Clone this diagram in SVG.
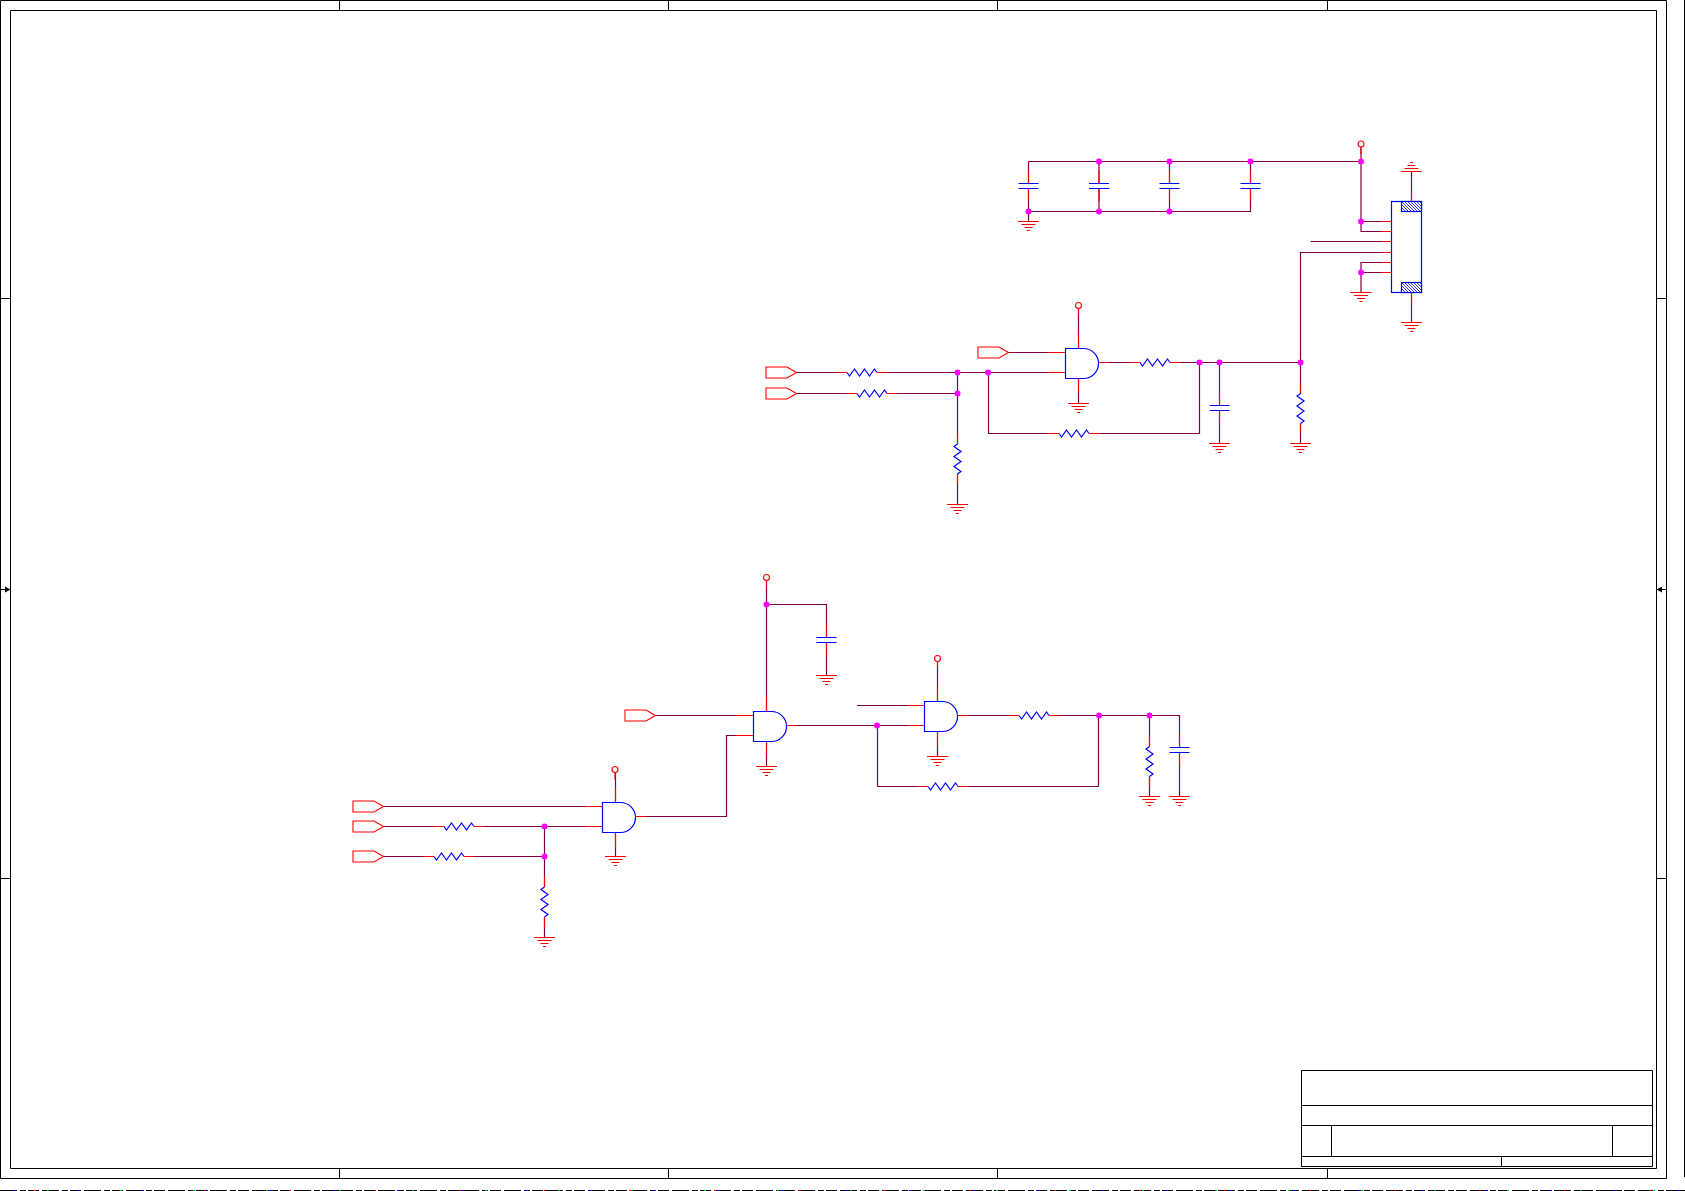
<svg xmlns="http://www.w3.org/2000/svg" width="1685" height="1191" viewBox="0 0 1685 1191">
<style>
.w{fill:none;stroke:#800040;stroke-width:1.2}
.r{fill:none;stroke:#ff0000;stroke-width:1.1}
.b{fill:none;stroke:#0000ff;stroke-width:1.2}
.k{fill:none;stroke:#000000;stroke-width:1}
.j{fill:#ff00ff}
</style>
<defs>
<pattern id="hatch" patternUnits="userSpaceOnUse" width="3" height="3">
<rect width="3" height="3" fill="#ffffff"/>
<path d="M-1 -1L4 4M-1 2L1 4M2 -1L4 1" stroke="#0000ff" stroke-width="0.8"/>
</pattern>
<g id="gnd"><path class="r" d="M-10.5 0H10.5M-7 3H7M-4 6H4M-1.5 9H1.5"/></g>
<g id="gnd-up"><path class="r" d="M-10.5 0H10.5M-7 -3H7M-4 -6H4M-1.5 -9H1.5"/></g>
<g id="res"><path class="r" d="M-10 0H0M30 0H40"/><path class="b" d="M0 0L2.5 3.5L7.5 -3.5L12.5 3.5L17.5 -3.5L22.5 3.5L27.5 -3.5L30 0"/></g>
<g id="cap"><path class="r" d="M0 -13V0M0 5V18"/><path class="b" d="M-10 0H10M-10 5H10"/></g>
<g id="gate"><path class="r" d="M-17 4H0M-17 24H0M33 14H43M13 -15V0M13 30V45"/><path class="b" fill="#ffffff" d="M0 0H18A15 15 0 0 1 18 30H0Z"/></g>
<g id="port"><path class="r" fill="#ffffff" d="M0 0H21L30.5 5.5L21 11H0Z"/></g>
<g id="pwr"><path class="r" d="M0 3V10"/><circle class="r" r="3"/></g>
</defs>
<rect width="1685" height="1191" fill="#ffffff"/>

<g id="frame">
<path class="k" d="M0.5 0.5H1666.5V1178.5H0.5ZM10.5 10.5H1656.5V1168.5H10.5Z"/>
<path class="k" d="M339.5 0.5V10.5M668.5 0.5V10.5M997.5 0.5V10.5M1327.5 0.5V10.5M339.5 1168.5V1178.5M668.5 1168.5V1178.5M997.5 1168.5V1178.5M1327.5 1168.5V1178.5M0.5 298.5H10.5M0.5 878.5H10.5M1656.5 298.5H1666.5M1656.5 878.5H1666.5"/>
<path class="k" d="M0.5 589.5H10.5M1656.5 589.5H1666.5"/>
<path d="M10.5 589.5L5 586.5V592.5ZM1656.5 589.5L1662 586.5V592.5Z" fill="#000000"/>
<path class="k" d="M1684.5 0V1177"/>
<path class="k" stroke-dasharray="17 3 6 2 11 3" d="M0 1190.5H1685"/>
<path fill="none" stroke="#0000ff" stroke-dasharray="3 61" d="M13 1190.5H1685"/>
<path fill="none" stroke="#ff0000" stroke-dasharray="2 83" d="M34 1190.5H1685"/>
<path fill="none" stroke="#00cc44" stroke-dasharray="2 71" d="M47 1190.5H1685"/>
</g>
<g id="title-block">
<path class="k" d="M1301.5 1070.5H1652.5V1166.5H1301.5ZM1301.5 1105.5H1652.5M1301.5 1125.5H1652.5M1301.5 1156.5H1652.5M1331.5 1125.5V1156.5M1612.5 1125.5V1156.5M1501.5 1156.5V1166.5"/>
</g>

<g id="connectors">
<path class="w" d="M1361 147.5V231.5H1391.5M1028.5 161.5H1361M1028.5 161.5V183.5M1028.5 188.5V221.5M1028.5 211.5H1250.5V188.5M1099 161.5V183.5M1099 188.5V211.5M1169.5 161.5V183.5M1169.5 188.5V211.5M1250.5 161.5V183.5M1361 221.5H1391.5M1310.5 241.5H1391.5M1391.5 252.5H1300.5V393.5M1391.5 262.5H1361V292.5M1361 272.5H1391.5M1411.5 201.5V171.5M1411.5 292.5V322.5"/>
<path class="w" d="M797 372.5H847M877 372.5H1065.5M797 393.5H857M887 393.5H957.5M957.5 372.5V444M957.5 474V504.5M988.5 372.5V433.5H1059M1089 433.5H1199.5V362.5M1008 352.5H1065.5M1098 362.5H1140M1170 362.5H1300.5M1300.5 423.5V443.5M1219.5 362.5V405.5M1219.5 410.5V443.5M1078.5 308.5V348.5M1078.5 378.5V403.5"/>
<path class="w" d="M766.5 580.5V711.5M766.5 604.5H826.5V637.5M826.5 642.5V675.5M655.5 715.5H753.5M753.5 735.5H726.5V816.5H635.5M786 725.5H924.5M877.5 725.5V786.5H928M958 786.5H1098.5V715.5M857 705.5H924.5M957 715.5H1019M1049 715.5H1179.5V747.5M1179.5 752.5V796.5M1149.5 715.5V746.5M1149.5 776.5V796.5M937.5 661.5V701.5M937.5 731.5V756.5M766.5 741.5V766.5"/>
<path class="w" d="M383.5 806.5H602.5M383.5 826.5H444M474 826.5H602.5M383.5 856.5H434M464 856.5H544.5M544.5 826.5V887M544.5 917V937.5M615.5 772.5V802.5M615.5 832.5V856.5"/>
<g id="junctions">
<circle class="j" cx="1099" cy="161.5" r="3"/><circle class="j" cx="1169.5" cy="161.5" r="3"/><circle class="j" cx="1250.5" cy="161.5" r="3"/><circle class="j" cx="1361" cy="161.5" r="3"/>
<circle class="j" cx="1028.5" cy="211.5" r="3"/><circle class="j" cx="1099" cy="211.5" r="3"/><circle class="j" cx="1169.5" cy="211.5" r="3"/>
<circle class="j" cx="1361" cy="221.5" r="3"/><circle class="j" cx="1361" cy="272.5" r="3"/>
<circle class="j" cx="957.5" cy="372.5" r="3"/><circle class="j" cx="988" cy="372.5" r="3"/><circle class="j" cx="957.5" cy="393.5" r="3"/>
<circle class="j" cx="1199.5" cy="362.5" r="3"/><circle class="j" cx="1219.5" cy="362.5" r="3"/><circle class="j" cx="1300.5" cy="362.5" r="3"/>
<circle class="j" cx="766.5" cy="604.5" r="3"/><circle class="j" cx="877" cy="725.5" r="3"/><circle class="j" cx="1099" cy="715.5" r="3"/><circle class="j" cx="1149.5" cy="715.5" r="3"/>
<circle class="j" cx="544.5" cy="826.5" r="3"/><circle class="j" cx="544.5" cy="856.5" r="3"/>
</g>
</g>

<g id="J1">
<rect class="b" x="1391.5" y="201.5" width="30" height="91"/>
<rect x="1401.5" y="201.5" width="20" height="10" fill="url(#hatch)" stroke="#0000ff" stroke-width="1.2"/>
<rect x="1401.5" y="282.5" width="20" height="10" fill="url(#hatch)" stroke="#0000ff" stroke-width="1.2"/>
<path class="r" d="M1381.5 221.5H1391.5M1381.5 231.5H1391.5M1381.5 241.5H1391.5M1381.5 252.5H1391.5M1381.5 262.5H1391.5M1381.5 272.5H1391.5M1411.5 191.5V201.5M1411.5 292.5V302.5"/>
</g>

<g id="U1"><use href="#gate" x="1065.5" y="348.5"/></g>
<g id="U2"><use href="#gate" x="753.5" y="711.5"/></g>
<g id="U3"><use href="#gate" x="602.5" y="802.5"/></g>
<g id="U4"><use href="#gate" x="924.5" y="701.5"/></g>

<g id="C1"><use href="#cap" x="1028.5" y="183.5"/></g>
<g id="C2"><use href="#cap" x="1099" y="183.5"/></g>
<g id="C3"><use href="#cap" x="1169.5" y="183.5"/></g>
<g id="C4"><use href="#cap" x="1250.5" y="183.5"/></g>
<g id="C5"><use href="#cap" x="1219.5" y="405.5"/></g>
<g id="C6"><use href="#cap" x="826.5" y="637.5"/></g>
<g id="C7"><use href="#cap" x="1179.5" y="747.5"/></g>

<g id="R1"><use href="#res" x="847" y="372.5"/></g>
<g id="R2"><use href="#res" x="857" y="393.5"/></g>
<g id="R3"><use href="#res" transform="translate(957.5 444) rotate(90)"/></g>
<g id="R4"><use href="#res" x="1059" y="433.5"/></g>
<g id="R5"><use href="#res" x="1140" y="362.5"/></g>
<g id="R6"><use href="#res" transform="translate(1300.5 393.5) rotate(90)"/></g>
<g id="R7"><use href="#res" x="1019" y="715.5"/></g>
<g id="R8"><use href="#res" x="928" y="786.5"/></g>
<g id="R9"><use href="#res" transform="translate(1149.5 746.5) rotate(90)"/></g>
<g id="R10"><use href="#res" x="444" y="826.5"/></g>
<g id="R11"><use href="#res" x="434" y="856.5"/></g>
<g id="R12"><use href="#res" transform="translate(544.5 887) rotate(90)"/></g>

<g id="P1"><use href="#port" x="978" y="347"/></g>
<g id="P2"><use href="#port" x="766" y="367"/></g>
<g id="P3"><use href="#port" x="766" y="388"/></g>
<g id="P4"><use href="#port" x="625" y="710"/></g>
<g id="P5"><use href="#port" x="353" y="801"/></g>
<g id="P6"><use href="#port" x="353" y="821"/></g>
<g id="P7"><use href="#port" x="353" y="851"/></g>

<g id="VCC1"><use href="#pwr" x="1361" y="144"/></g>
<g id="VCC2"><use href="#pwr" x="1078.5" y="305.5"/></g>
<g id="VCC3"><use href="#pwr" x="766.5" y="577.5"/></g>
<g id="VCC4"><use href="#pwr" x="937.5" y="658.5"/></g>
<g id="VCC5"><use href="#pwr" x="615" y="769.5"/></g>

<g id="GND1"><use href="#gnd" x="1028.5" y="221.5"/></g>
<g id="GND2"><use href="#gnd" x="1361" y="292.5"/></g>
<g id="GND3"><use href="#gnd-up" x="1411.5" y="171.5"/></g>
<g id="GND4"><use href="#gnd" x="1411.5" y="322.5"/></g>
<g id="GND5"><use href="#gnd" x="1078.5" y="403.5"/></g>
<g id="GND6"><use href="#gnd" x="1219.5" y="443.5"/></g>
<g id="GND7"><use href="#gnd" x="1300.5" y="443.5"/></g>
<g id="GND8"><use href="#gnd" x="957.5" y="504.5"/></g>
<g id="GND9"><use href="#gnd" x="826.5" y="675.5"/></g>
<g id="GND10"><use href="#gnd" x="766.5" y="766.5"/></g>
<g id="GND11"><use href="#gnd" x="937.5" y="756.5"/></g>
<g id="GND12"><use href="#gnd" x="1149.5" y="796.5"/></g>
<g id="GND13"><use href="#gnd" x="1179.5" y="796.5"/></g>
<g id="GND14"><use href="#gnd" x="615.5" y="856.5"/></g>
<g id="GND15"><use href="#gnd" x="544.5" y="937.5"/></g>
</svg>
